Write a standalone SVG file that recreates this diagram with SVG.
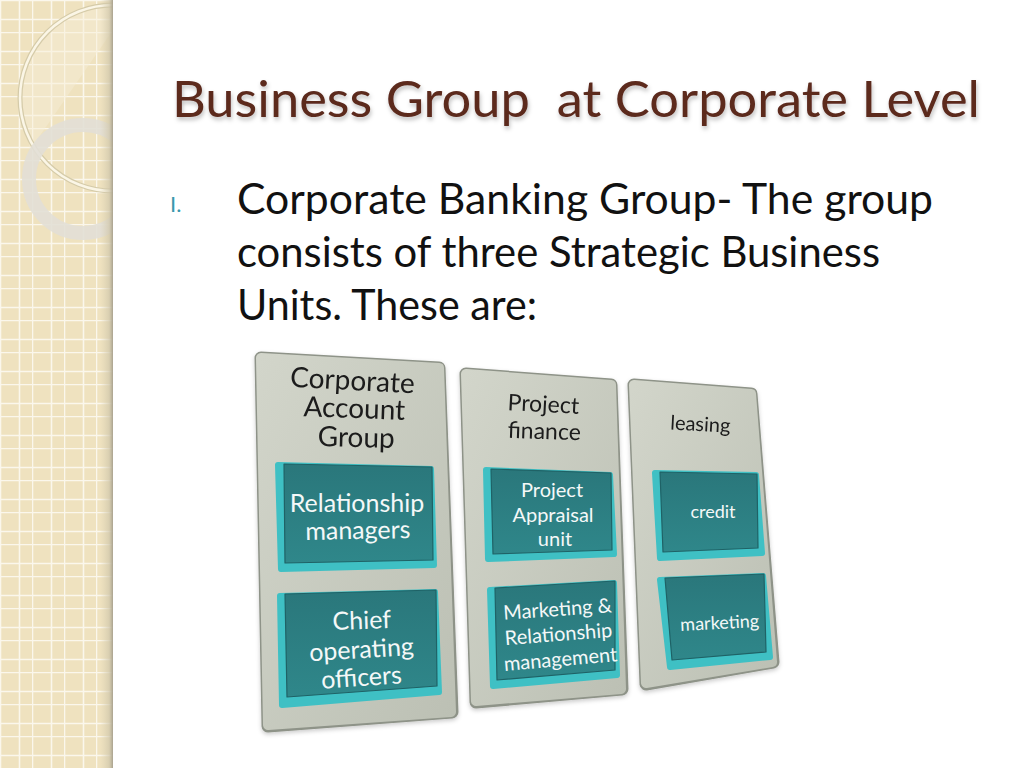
<svg xmlns="http://www.w3.org/2000/svg" width="1024" height="768" viewBox="0 0 1024 768">
<defs>
<style>
.title{font-family:Lato,"Open Sans","Liberation Sans",sans-serif;font-size:50px;fill:#5b2a1f;white-space:pre}
.body{font-family:Lato,"Open Sans","Liberation Sans",sans-serif;font-size:42px;fill:#111}
.bullet{font-family:Lato,"Liberation Sans",sans-serif;font-size:22px;fill:#3a98ad}
.hdr{font-family:Lato,"Open Sans","Liberation Sans",sans-serif;fill:#1a1a1a;text-anchor:middle}
.inn{font-family:Lato,"Open Sans","Liberation Sans",sans-serif;fill:#f4f8f8;text-anchor:middle}
.panelEdge{fill:#8e9388;stroke:#8e9388;stroke-width:13;stroke-linejoin:round}
.panelFace{fill:url(#pg);stroke:url(#pg);stroke-width:10;stroke-linejoin:round}
.bevel{fill:#3fc0c4;stroke:#3fc0c4;stroke-width:6;stroke-linejoin:round}
.face{fill:url(#tg);stroke:#1f6266;stroke-width:1.2;stroke-linejoin:round}
</style>
<pattern id="grid" x="0" y="0" width="32" height="32" patternUnits="userSpaceOnUse">
<rect width="32" height="32" fill="#efe2bf"/>
<path d="M0.5 0V32M19.5 0V32M0 0.5H32M0 19.5H32" stroke="#fbf7ec" stroke-width="1.6"/>
</pattern>
<clipPath id="stripClip"><rect x="0" y="0" width="113" height="768"/></clipPath>
<linearGradient id="edge" x1="0" x2="1" y1="0" y2="0">
<stop offset="0" stop-color="#d8cfb2" stop-opacity="0"/>
<stop offset="0.7" stop-color="#cfc6aa" stop-opacity="0.7"/>
<stop offset="1" stop-color="#a9a28f"/>
</linearGradient>
<linearGradient id="pg" x1="0" y1="0" x2="1" y2="1">
<stop offset="0" stop-color="#d2d5ca"/>
<stop offset="1" stop-color="#bcc0b4"/>
</linearGradient>
<linearGradient id="tg" x1="0" y1="0" x2="0" y2="1">
<stop offset="0" stop-color="#2a777b"/>
<stop offset="1" stop-color="#2f878a"/>
</linearGradient>
<filter id="sh" x="-5%" y="-20%" width="110%" height="140%">
<feDropShadow dx="1" dy="3" stdDeviation="2" flood-color="#000" flood-opacity="0.25"/>
</filter>
<filter id="psh" x="-10%" y="-10%" width="120%" height="120%">
<feDropShadow dx="0" dy="2" stdDeviation="2" flood-color="#000" flood-opacity="0.2"/>
</filter>
</defs>

<rect width="1024" height="768" fill="#ffffff"/>

<g id="side-strip">
<rect x="0" y="0" width="113" height="768" fill="url(#grid)"/>
<g clip-path="url(#stripClip)">
<path d="M20 92 A93 93 0 0 1 113 5 L113 30 L30 150 Z" fill="#f6eed6" opacity="0.45"/>
<circle cx="113" cy="98" r="93" fill="none" stroke="#d5cba9" stroke-width="5"/>
<circle cx="113" cy="98" r="93" fill="none" stroke="#fbf6e6" stroke-width="2.5"/>
<circle cx="83" cy="179" r="54" fill="none" stroke="#e2dfd6" stroke-width="14" opacity="0.9"/>
</g>
<rect x="100" y="0" width="13" height="768" fill="url(#edge)"/>
</g>

<g id="title" filter="url(#sh)">
<text class="title" x="172" y="117" textLength="808" lengthAdjust="spacingAndGlyphs" xml:space="preserve">Business Group  at Corporate Level</text>
</g>

<g id="bullet-text">
<text class="bullet" x="170" y="212">I.</text>
<text class="body" x="237" y="214" textLength="696" lengthAdjust="spacingAndGlyphs">Corporate Banking Group- The group</text>
<text class="body" x="237" y="267" textLength="643" lengthAdjust="spacingAndGlyphs">consists of three Strategic Business</text>
<text class="body" x="237" y="320" textLength="300" lengthAdjust="spacingAndGlyphs">Units. These are:</text>
</g>

<g id="panel-corporate-account" filter="url(#psh)">
<polygon class="panelEdge" points="261,358 439,368 452,712 268,726"/>
<polygon class="panelFace" points="261,358 439,368 451,712 268,725"/>
<text class="hdr" font-size="28" transform="translate(352,390) rotate(3)">Corporate</text>
<text class="hdr" font-size="28" transform="translate(354,418) rotate(2)">Account</text>
<text class="hdr" font-size="28" transform="translate(356,447) rotate(1.5)">Group</text>
</g>
<g id="box-relationship-managers">
<polygon class="bevel" points="278,465 431,469 434,565 281,569"/>
<polygon class="face" points="284,464 432,467 433,560 285,563"/>
<text class="inn" font-size="25" x="357" y="512">Relationship</text>
<text class="inn" font-size="25" transform="translate(358,539) rotate(-1)">managers</text>
</g>
<g id="box-chief-operating-officers">
<polygon class="bevel" points="280,596 435,592 439,692 282,705"/>
<polygon class="face" points="285,594 436,590 437,686 287,697"/>
<text class="inn" font-size="25" transform="translate(362,629) rotate(-2)">Chief</text>
<text class="inn" font-size="25" transform="translate(362,658) rotate(-3.5)">operating</text>
<text class="inn" font-size="25" transform="translate(362,686) rotate(-4)">officers</text>
</g>

<g id="panel-project-finance" filter="url(#psh)">
<polygon class="panelEdge" points="466,374 611,385 622,689 476,702"/>
<polygon class="panelFace" points="466,374 611,385 621,689 476,701"/>
<text class="hdr" font-size="23" transform="translate(543,412) rotate(3)">Project</text>
<text class="hdr" font-size="23" transform="translate(544,439) rotate(2)">finance</text>
</g>
<g id="box-project-appraisal-unit">
<polygon class="bevel" points="486,470 610,475 614,554 488,559"/>
<polygon class="face" points="491,469 611,473 612,550 493,554"/>
<text class="inn" font-size="20" x="552" y="497">Project</text>
<text class="inn" font-size="20" x="553" y="522">Appraisal</text>
<text class="inn" font-size="20" x="555" y="546">unit</text>
</g>
<g id="box-marketing-relationship-management">
<polygon class="bevel" points="490,590 614,583 617,675 493,686"/>
<polygon class="face" points="495,588 615,581 615,670 497,680"/>
<text class="inn" font-size="20" transform="translate(558,616) rotate(-4)">Marketing &amp;</text>
<text class="inn" font-size="20" transform="translate(559,641) rotate(-4.5)">Relationship</text>
<text class="inn" font-size="20" transform="translate(561,666) rotate(-5)">management</text>
</g>

<g id="panel-leasing" filter="url(#psh)">
<polygon class="panelEdge" points="634,385 751,394 773,662 646,684"/>
<polygon class="panelFace" points="634,385 751,394 772,662 646,683"/>
<text class="hdr" font-size="20" transform="translate(700,431) rotate(3)">leasing</text>
</g>
<g id="box-credit">
<polygon class="bevel" points="655,473 756,475 762,553 660,558"/>
<polygon class="face" points="660,472 757,474 758,548 663,552"/>
<text class="inn" font-size="18" x="713" y="518">credit</text>
</g>
<g id="box-marketing">
<polygon class="bevel" points="660,580 763,576 770,657 670,667"/>
<polygon class="face" points="665,578 764,574 766,652 672,660"/>
<text class="inn" font-size="18" transform="translate(720,629) rotate(-3)">marketing</text>
</g>

<g id="connectors"/>
</svg>
